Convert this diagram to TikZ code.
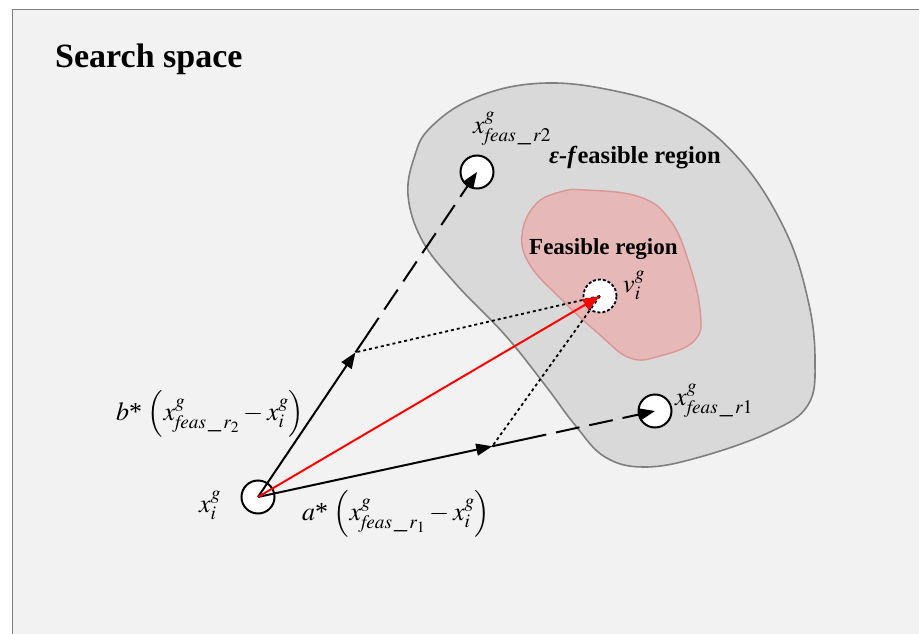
\documentclass[tikz,border=0pt]{standalone}
\usepackage{mathptmx}
\usepackage[no-math]{fontspec}
\setmainfont{Liberation Serif}
\usetikzlibrary{arrows.meta,calc}
\definecolor{bggray}{HTML}{F2F2F2}
\definecolor{regiongray}{HTML}{D9D9D9}
\definecolor{regionedge}{HTML}{7F7F7F}
\definecolor{feasfill}{HTML}{E6B9B8}
\definecolor{feasedge}{HTML}{D99694}
\tikzset{
  ptnode/.style={circle,draw=black,fill=white,line width=2pt,minimum size=33pt,inner sep=0pt},
  vnode/.style={circle,draw=black,fill=white,line width=1.8pt,dash pattern=on 3pt off 2pt,minimum size=33pt,inner sep=0pt},
  solidarrow/.style={line width=2pt,-{Triangle[length=16pt,width=12pt]}},
  plainline/.style={line width=2pt},
  longdash/.style={line width=2pt,dash pattern=on 24pt off 10pt,-{Triangle[length=16pt,width=12pt]}},
  dotline/.style={line width=1.8pt,dash pattern=on 3pt off 3pt},
  redarrow/.style={line width=2pt,red,-{Triangle[length=17pt,width=12pt]}},
  mlabel/.style={anchor=base west,inner sep=0pt,font=\fontsize{26}{26}\selectfont},
  title/.style={anchor=base west,inner sep=0pt,font=\fontsize{34}{34}\selectfont\bfseries},
  regionlabel/.style={anchor=base west,inner sep=0pt,font=\fontsize{23}{23}\selectfont\bfseries}
}
\newcommand{\starop}{\mbox{*}\,}
\begin{document}
\begin{tikzpicture}[x=1pt,y=-1pt]
\useasboundingbox (0,0) rectangle (919,634);
\fill[white] (0,0) rectangle (919,634);
\filldraw[fill=bggray,draw=regionedge,line width=1pt] (12,10) rectangle (930,645);
% epsilon-feasible region
\filldraw[fill=regiongray,draw=regionedge,line width=1.6pt]
  plot[smooth cycle,tension=0.65] coordinates {
  (430,128) (470,100) (530,84) (600,88) (680,112) (740,160) (785,230)
  (808,300) (815,360) (808,405) (770,432) (700,457) (645,467) (605,457)
  (575,425) (545,385) (505,335) (455,283) (422,240) (408,195) (415,155)};
% feasible region
\filldraw[fill=feasfill,draw=feasedge,line width=1.4pt]
  plot[smooth cycle,tension=0.7] coordinates {
  (586,190) (640,197) (670,220) (688,260) (700,310) (695,340) (660,356)
  (630,358) (600,335) (560,298) (530,265) (522,235) (535,205) (560,192)};
% texts
\node[title] (ss) at (55,68) {Search space};
\node[regionlabel,font=\fontsize{24.5}{24.5}\selectfont\bfseries] (eps) at (549,163) {\textbf{\textit{ε-f}}easible region};
\node[regionlabel] (fr) at (529,254) {Feasible region};
% points
\node[ptnode] (xi) at (258,497) {};
\node[ptnode] (r2) at (477,172) {};
\node[ptnode] (r1) at (655,411) {};
\node[vnode] (v) at (600,296) {};
% helper coordinates
\coordinate (a1) at ($(xi.center)!0.445!(r2.center)$);
\coordinate (s1) at ($(xi.center)!0.49!(r2.center)$);
\coordinate (a2) at ($(xi.center)!0.59!(r1.center)$);
\coordinate (s2) at ($(xi.center)!0.667!(r1.center)$);
% dotted lines
\draw[dotline] (v.center) -- (a1);
\draw[dotline] (v.center) -- (a2);
% black vectors
\draw[solidarrow] (xi.center) -- (a1);
\draw[plainline] (a1) -- (s1);
\draw[longdash] (s1) -- (r2.center);
\draw[solidarrow] (xi.center) -- (a2);
\draw[plainline] (a2) -- (s2);
\draw[longdash] (s2) -- (r1.center);
% red vector
\draw[redarrow] (xi.center) -- (v.center);
% math labels
\node[mlabel] (lxi) at (199,512) {$x_i^{g}$};
\node[mlabel] (lr2) at (473,133) {$x^{g}_{\mathit{feas}\,\_\,r2}$};
\node[mlabel] (lr1) at (675,405) {$x^{g}_{\mathit{feas}\,\_\,r1}$};
\node[mlabel] (lv) at (623,292) {$v_i^{g}$};
\node[mlabel] (lb) at (116,420) {$b\starop\left(x^{g}_{\mathit{feas}\,\_\,r_2}-x_i^{g}\right)$};
\node[mlabel] (la) at (302,520) {$a\starop\left(x^{g}_{\mathit{feas}\,\_\,r_1}-x_i^{g}\right)$};
\end{tikzpicture}
\end{document}
